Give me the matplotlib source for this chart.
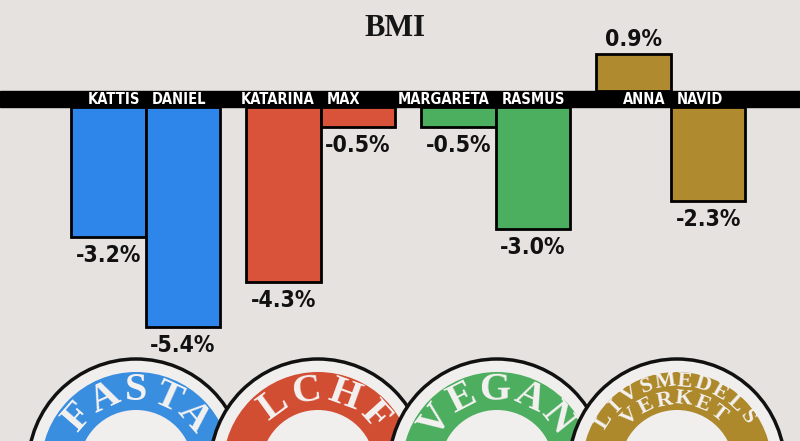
import numpy as np
import matplotlib.pyplot as plt
from matplotlib import font_manager
from matplotlib.patches import Circle

names = ["KATTIS", "DANIEL", "KATARINA", "MAX", "MARGARETA", "RASMUS", "ANNA", "NAVID"]
bmi_change = [-3.2, -5.4, -4.3, -0.5, -0.5, -3.0, 0.9, -2.3]
diets = ["FASTA", "LCHF", "VEGAN", "LIVSMEDELSVERKET"]
diet_colors = ["#2f86ea", "#d9533a", "#4caf5f", "#b08a2e"]
badge_colors = ["#3a8ee0", "#d24e33", "#4dae60", "#ad892c"]

BG = "#e6e2e0"
SERIF = ["Liberation Serif", "DejaVu Serif"]
PX_PER_PCT = 40.7
BAND = 8 / PX_PER_PCT  # half thickness of the black zero band, in %

# look for a narrow bold sans on the system
narrow = [f.fname for f in font_manager.fontManager.ttflist
          if ("Condensed" in f.fname or "Narrow" in f.fname) and "Bold" in f.fname
          and "Oblique" not in f.fname and "Italic" not in f.fname and "Sans" in f.fname]


def label_font(size):
    if narrow:
        return font_manager.FontProperties(fname=narrow[0], size=size)
    return font_manager.FontProperties(family="DejaVu Sans", weight="bold", size=size)


fig = plt.figure(figsize=(8, 4.41), dpi=100, facecolor=BG)

# main bar axes
ax = fig.add_axes([0, 0, 1, 1])
ax.set_facecolor("none")
ax.set_xlim(-1.456, -1.456 + 800 / 74.5)
ax.set_ylim(-342 / PX_PER_PCT, 99 / PX_PER_PCT)
ax.axis("off")

ax.axhspan(-BAND, BAND, color="black", zorder=3)

for k, (name, val) in enumerate(zip(names, bmi_change)):
    g, i = divmod(k, 2)
    x = g * 2.35 + i
    base = -BAND if val < 0 else BAND
    ax.bar(x, val, width=1.0, bottom=base, color=diet_colors[g],
           edgecolor="black", linewidth=2, zorder=2)
    border = g * 2.35 + 0.5
    if i == 0:
        ax.text(border - 0.08, 0, name, ha="right", va="center", color="white",
                fontproperties=label_font(10.5), zorder=4)
    else:
        ax.text(border + 0.08, 0, name, ha="left", va="center", color="white",
                fontproperties=label_font(10.5), zorder=4)
    if val < 0:
        ax.text(x, base + val - 7 / PX_PER_PCT, f"{val:.1f}%", ha="center", va="top",
                fontproperties=label_font(16.5), color="#111111", zorder=4)
    else:
        ax.text(x, base + val + 3 / PX_PER_PCT, f"{val:.1f}%", ha="center", va="bottom",
                fontproperties=label_font(16.5), color="#111111", zorder=4)

fig.text(0.494, 0.936, "BMI", ha="center", va="center", fontsize=22,
         fontweight="bold", family=SERIF, color="#151515")

# diet badges along the bottom, in pixel coordinates
bx = fig.add_axes([0, 0, 1, 1])
bx.set_facecolor("none")
bx.set_xlim(0, 800)
bx.set_ylim(0, 441)
bx.set_aspect("equal")
bx.axis("off")


def arc_text(text, cx, cy, r, a0, a1, size, z):
    for ch, a in zip(text, np.linspace(a0, a1, len(text))):
        t = np.deg2rad(a)
        bx.text(cx + r * np.cos(t), cy + r * np.sin(t), ch, rotation=a - 90,
                rotation_mode="anchor", ha="center", va="center", color="#f4f2f1",
                fontsize=size, fontweight="bold", family=SERIF, zorder=z)


centers = [136, 318, 497, 677]
cy = -26
for j, (diet, col) in enumerate(zip(diets, badge_colors)):
    cx = centers[j]
    z = 10 + j * 5
    bx.add_patch(Circle((cx, cy), 108, facecolor="#f1efee", edgecolor="#111111", lw=2.5, zorder=z))
    bx.add_patch(Circle((cx, cy), 95, facecolor=col, edgecolor="none", zorder=z + 1))
    bx.add_patch(Circle((cx, cy), 57, facecolor="#f1efee", edgecolor="none", zorder=z + 2))
    if diet == "FASTA":
        arc_text(diet, cx, cy, 76, 139, 41, 29, z + 3)
    elif diet == "LCHF":
        arc_text(diet, cx, cy, 76, 126, 42, 29, z + 3)
    elif diet == "VEGAN":
        arc_text(diet, cx, cy, 77, 143, 39, 29, z + 3)
    else:
        arc_text(diet[:10], cx, cy, 86, 148, 35, 16, z + 3)
        arc_text(diet[10:], cx, cy, 68, 133, 52, 16, z + 3)

fig.savefig("out.png", dpi=100, facecolor=BG)
